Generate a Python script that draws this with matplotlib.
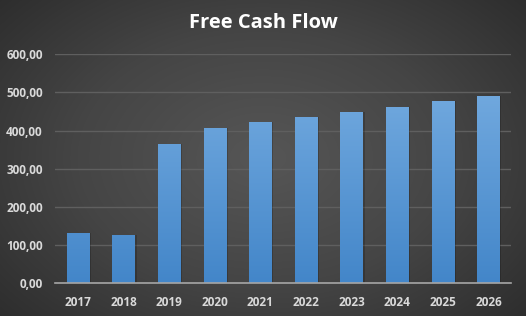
import numpy as np
import matplotlib.pyplot as plt
from matplotlib.colors import LinearSegmentedColormap

# data
years = ['2017', '2018', '2019', '2020', '2021', '2022', '2023', '2024', '2025', '2026']
fcf = [132, 127, 366, 406, 422, 435, 448, 461, 477, 490]

fig = plt.figure(figsize=(5.26, 3.16), dpi=100)

# radial dark background
bg = fig.add_axes([0, 0, 1, 1], zorder=-10)
yy, xx = np.mgrid[-1:1:316j, -1:1:526j]
r = np.sqrt((xx * 0.85) ** 2 + (yy * 0.75) ** 2)
bg_cmap = LinearSegmentedColormap.from_list('bg', ['#565656', '#454545', '#2b2b2b'])
bg.imshow(r, cmap=bg_cmap, aspect='auto', vmin=0, vmax=1.2, extent=[0, 1, 0, 1])
bg.axis('off')

ax = fig.add_axes([0.105, 0.1035, 0.867, 0.7247])
ax.set_facecolor('none')
x = np.arange(len(years))
bars = ax.bar(x, fcf, width=0.49, color='#5b9bd5', zorder=3)

# vertical gradient inside each bar
bar_cmap = LinearSegmentedColormap.from_list('bar', ['#4386c9', '#70a8de'])
grad = np.linspace(0, 1, 256).reshape(-1, 1)
for b in bars:
    bx, by = b.get_x(), b.get_y()
    w, h = b.get_width(), b.get_height()
    # soft shadow
    ax.bar(bx + w / 2 + 0.04, h, width=w, bottom=0, color='black', alpha=0.18, zorder=2)
    im = ax.imshow(grad, cmap=bar_cmap, aspect='auto', origin='lower',
                   extent=[bx, bx + w, 0, 490], zorder=4)
    im.set_clip_path(b)

ax.set_xlim(-0.5, len(years) - 0.5)
ax.set_ylim(0, 600)
ax.set_yticks(np.arange(0, 601, 100))
ax.set_yticklabels(['{:.2f}'.format(v).replace('.', ',') for v in np.arange(0, 601, 100)])
ax.set_xticks(x)
ax.set_xticklabels(years)
ax.grid(axis='y', color='#5f5f5f', linewidth=1, zorder=0)
for s in ['top', 'right', 'left']:
    ax.spines[s].set_visible(False)
ax.spines['bottom'].set_color('#a6a6a6')
ax.spines['bottom'].set_linewidth(1.2)
ax.spines['bottom'].set_zorder(5)
ax.tick_params(length=0, colors='#d9d9d9', labelsize=8.5)
ax.tick_params(axis='x', pad=9)
ax.tick_params(axis='y', pad=9)
for lab in ax.get_xticklabels() + ax.get_yticklabels():
    lab.set_fontweight('bold')
    lab.set_fontfamily('Open Sans')

fig.text(0.5, 0.928, 'Free Cash Flow', ha='center', va='center', color='white',
         fontsize=14.5, fontweight='bold', family='Open Sans')

fig.savefig('out.png', dpi=100)
